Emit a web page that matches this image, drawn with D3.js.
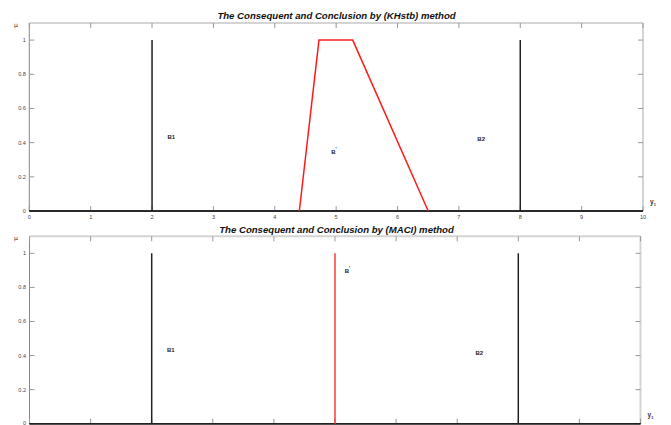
<!DOCTYPE html>
<html><head><meta charset="utf-8">
<script src="https://cdn.jsdelivr.net/npm/d3@7"></script>
<style>html,body{margin:0;padding:0;background:#fff}svg{display:block}</style>
</head><body>
<script>
// ---- data ----
const xTicks = [0,1,2,3,4,5,6,7,8,9,10];
const yTicks = [0,0.2,0.4,0.6,0.8,1];
const yTickLabels = ["0","0.2","0.4","0.6","0.8","1"];
const titles = ["The Consequent and Conclusion by (KHstb) method","The Consequent and Conclusion by (MACI) method"];
// singleton consequents B1 and B2 (membership over universe [0,10])
const b1X = [0,2,2,2,10], b1Y = [0,0,1,0,0];
const b2X = [0,8,8,8,10], b2Y = [0,0,1,0,0];
// conclusion B' by KHstb (trapezoid)
const khX = [4.4,4.72,5.27,6.5], khY = [0,1,1,0];
// conclusion B' by MACI (singleton)
const maX = [5,5], maY = [0,1];
// label positions in data coordinates
const labelsTop = [{t:"B1",x:2.25,y:0.42},{t:"B",x:4.92,y:0.335,p:true},{t:"B2",x:7.3,y:0.41}];
const labelsBot = [{t:"B1",x:2.25,y:0.42},{t:"B",x:5.16,y:0.885,p:true},{t:"B2",x:7.3,y:0.405}];

const W=671,H=425;
const svg = d3.select("body").append("svg").attr("width",W).attr("height",H);

const panels = [
  {x0:29.3,x1:643,y0:211,y1:23,title:titles[0],titleY:19,showX:true,series:[[b1X,b1Y,"#222"],[b2X,b2Y,"#222"],[khX,khY,"#ff1a1a"]],labels:labelsTop},
  {x0:29.5,x1:640.5,y0:423.7,y1:236.3,title:titles[1],titleY:233,showX:false,series:[[b1X,b1Y,"#222"],[b2X,b2Y,"#222"],[maX,maY,"#ff3a3a"]],labels:labelsBot}
];

panels.forEach(p=>{
  const x = d3.scaleLinear().domain([0,10]).range([p.x0,p.x1]);
  const y = d3.scaleLinear().domain([0,1.1]).range([p.y0,p.y1]);
  const g = svg.append("g");
  g.append("line").attr("x1",p.x0).attr("x2",p.x1).attr("y1",p.y1).attr("y2",p.y1).attr("stroke","#d4d4d4").attr("stroke-width",2);
  g.append("line").attr("x1",p.x1).attr("x2",p.x1).attr("y1",p.y1).attr("y2",p.y0).attr("stroke","#d4d4d4").attr("stroke-width",2);
  g.append("line").attr("x1",p.x0).attr("x2",p.x0).attr("y1",p.y1).attr("y2",p.y0).attr("stroke","#888").attr("stroke-width",1);
  const tl = 5;
  xTicks.forEach(v=>{
    g.append("line").attr("x1",x(v)).attr("x2",x(v)).attr("y1",p.y0).attr("y2",p.y0-tl).attr("stroke","#999").attr("stroke-width",1);
    g.append("line").attr("x1",x(v)).attr("x2",x(v)).attr("y1",p.y1).attr("y2",p.y1+tl).attr("stroke","#999").attr("stroke-width",1);
    if(p.showX) g.append("text").attr("x",x(v)).attr("y",p.y0+7.5).attr("text-anchor","middle")
      .attr("font-family","Liberation Sans, Arial, sans-serif").attr("font-size",5.5).attr("fill","#444").text(v);
  });
  yTicks.forEach((v,i)=>{
    g.append("line").attr("x1",p.x0).attr("x2",p.x0+tl).attr("y1",y(v)).attr("y2",y(v)).attr("stroke","#999").attr("stroke-width",1);
    g.append("line").attr("x1",p.x1).attr("x2",p.x1-tl).attr("y1",y(v)).attr("y2",y(v)).attr("stroke","#999").attr("stroke-width",1);
    g.append("text").attr("x",p.x0-3.5).attr("y",Math.min(y(v)+2,424.5)).attr("text-anchor","end")
      .attr("font-family","Liberation Sans, Arial, sans-serif").attr("font-size",5.5).attr("fill","#444").text(yTickLabels[i]);
  });
  g.append("line").attr("x1",p.x0).attr("x2",p.x1).attr("y1",p.y0).attr("y2",p.y0).attr("stroke","#666").attr("stroke-width",1);
  const line = d3.line().x(d=>x(d[0])).y(d=>y(d[1]));
  p.series.forEach(([xs,ys,c])=>{
    const pts = xs.map((v,i)=>[v,ys[i]]);
    g.append("path").attr("d",line(pts)).attr("fill","none").attr("stroke",c).attr("stroke-width",1.5).attr("stroke-linejoin","miter");
  });
  p.labels.forEach(l=>{
    const t = g.append("text").attr("x",x(l.x)).attr("y",y(l.y))
      .attr("font-family","Liberation Sans, Arial, sans-serif").attr("font-size",6).attr("font-weight","bold").attr("fill","#222").text(l.t);
    if(l.p){ t.append("tspan").attr("dy",-3).attr("font-size",4.5).text("'"); }
  });
  g.append("text").attr("x",336.5).attr("y",p.titleY).attr("text-anchor","middle")
    .attr("font-family","Liberation Sans, Arial, sans-serif").attr("font-size",9.6).attr("font-weight","bold").attr("font-style","italic").attr("fill","#111").text(p.title);
  g.append("text").attr("x",14).attr("y",p.y1+4).attr("font-family","DejaVu Sans, sans-serif").attr("font-size",6).attr("fill","#333").text("μ");
  const yl = g.append("text").attr("x",p.x1+7).attr("y",p.y0-7).attr("font-family","Liberation Sans, Arial, sans-serif").attr("font-size",6.5).attr("font-weight","bold").attr("fill","#333").text("y");
  yl.append("tspan").attr("dy",2).attr("font-size",4).text("1");
});
</script>
</body></html>
